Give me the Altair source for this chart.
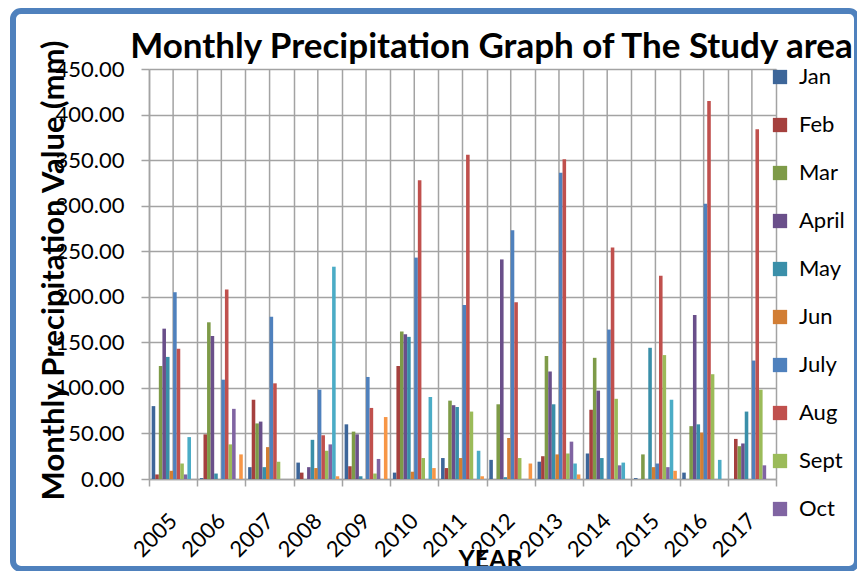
import altair as alt
import pandas as pd

years = [str(y) for y in range(2005, 2018)]
months = ["Jan", "Feb", "Mar", "April", "May", "Jun", "July", "Aug", "Sept", "Oct", "Nov", "Dec"]

jan = [80, 1, 13, 18, 60, 7, 23, 21, 19, 28, 1, 7, 0]
feb = [5, 49, 87, 7, 14, 124, 12, 0, 25, 76, 0, 0, 44]
mar = [124, 172, 61, 0, 52, 162, 86, 82, 135, 133, 27, 58, 36]
apr = [165, 157, 63, 13, 49, 159, 81, 241, 118, 97, 0, 180, 39]
may = [134, 6, 13, 43, 3, 156, 79, 2, 82, 23, 144, 60, 74]
jun = [9, 0, 35, 12, 0, 8, 23, 45, 27, 0, 13, 51, 0]
jul = [205, 109, 178, 98, 112, 243, 191, 273, 336, 164, 17, 302, 130]
aug = [143, 208, 105, 48, 78, 328, 356, 194, 351, 254, 223, 415, 384]
sep = [17, 38, 19, 31, 6, 23, 74, 23, 28, 88, 136, 115, 98]
octo = [5, 77, 0, 38, 22, 0, 0, 0, 41, 15, 13, 0, 15]
nov = [46, 0, 0, 233, 0, 90, 31, 0, 17, 18, 87, 21, 0]
dec = [0, 27, 0, 3, 68, 12, 3, 17, 5, 0, 9, 0, 0]

colors = ["#3d6699", "#a5403e", "#7e9b48", "#6a4f8a", "#3a8fa9", "#d27e34",
          "#4f81bd", "#c0504d", "#9bbb59", "#8064a2", "#4bacc6", "#f79646"]

series = [jan, feb, mar, apr, may, jun, jul, aug, sep, octo, nov, dec]
rows = []
for m, vals in zip(months, series):
    for y, v in zip(years, vals):
        rows.append({"year": y, "month": m, "value": v})
df = pd.DataFrame(rows)

GRID = "#a3a3a3"

xenc = alt.X("year:N", sort=years, title="YEAR",
             scale=alt.Scale(paddingInner=0, paddingOuter=0))

vrules = alt.Chart(pd.DataFrame({"year": years})).mark_rule(
    color=GRID, strokeWidth=1.5
).encode(x=xenc)

bars = alt.Chart(df).mark_bar().encode(
    x=xenc,
    xOffset=alt.XOffset("month:N", sort=months,
                        scale=alt.Scale(paddingInner=0, paddingOuter=0.75)),
    y=alt.Y("value:Q", title="Monthly Precipitation Value (mm)",
            scale=alt.Scale(domain=[0, 450], nice=False),
            axis=alt.Axis(values=list(range(0, 451, 50)), format=".2f")),
    color=alt.Color("month:N", sort=months,
                    scale=alt.Scale(domain=months, range=colors),
                    legend=alt.Legend(values=months[:10], title=None)),
)

border = alt.Chart(pd.DataFrame({"a": [0]})).mark_rect(
    fill=None, stroke="#4f81bd", strokeWidth=6, cornerRadius=8, clip=False
).encode(x=alt.value(-136), x2=alt.value(708), y=alt.value(-58), y2=alt.value(500))

chart = alt.layer(vrules, bars, border).properties(
    width=627, height=410,
    autosize=alt.AutoSizeParams(type="none"),
    padding={"left": 141, "top": 61, "right": 81, "bottom": 92},
    title=alt.Title("Monthly Precipitation Graph of The Study area",
                    font="Lato", fontSize=35, fontWeight="bold", color="black",
                    anchor="middle", dx=29, offset=-85, baseline="alphabetic"),
).configure_view(stroke=None).configure_axis(
    gridColor=GRID, gridWidth=1.5, domainColor=GRID, domainWidth=1.5,
    tickColor=GRID, tickWidth=1.5, labelFont="Lato", labelColor="black",
    titleFont="Lato", titleColor="black", titleFontWeight="bold",
    labelOverlap=False,
).configure_axisX(
    grid=True, tickBand="extent", tickSize=7, labelAngle=315, labelAlign="right",
    labelBaseline="middle", labelPadding=31, labelFontSize=22,
    titleFontSize=25, titleX=341, titleY=88, titleAlign="center",
    titleBaseline="alphabetic",
).configure_axisY(
    tickSize=8, labelPadding=17, labelFontSize=22,
    titleFontSize=31, titleAngle=270, titleX=-86, titleY=201,
    titleAlign="center", titleBaseline="alphabetic",
).configure_legend(
    orient="none", legendX=620, legendY=-3, symbolType="square", symbolSize=204,
    symbolStrokeWidth=0, labelFont="Lato", labelFontSize=22, labelColor="black",
    labelOffset=8, rowPadding=26, padding=0,
)

chart.save("out.html", embed_options={"renderer": "svg", "actions": False})
